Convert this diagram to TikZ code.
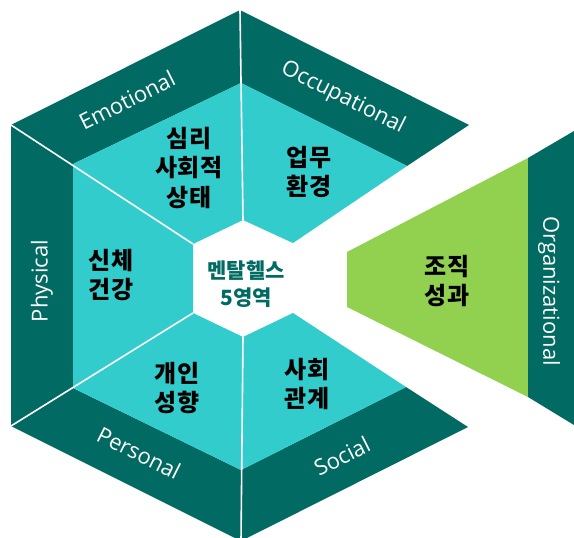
\documentclass[tikz,border=0pt]{standalone}
\usepackage{fontspec}
\newfontfamily\kr{Noto Sans CJK KR}
\newfontfamily\en{Open Sans}
\definecolor{tealdark}{HTML}{006A63}
\definecolor{cyanfill}{HTML}{33CCCC}
\definecolor{greenfill}{HTML}{92D050}
\tikzset{
  darkband/.style={fill=tealdark},
  cyanband/.style={fill=cyanfill},
  greenband/.style={fill=greenfill},
  sepline/.style={draw=white, line width=1.6pt},
  krlab/.style={font=\kr\bfseries\fontsize{24}{29.5}\selectfont, align=center, text=black, inner sep=0pt},
  centerlab/.style={font=\kr\bfseries\fontsize{21}{27}\selectfont, align=center, text=tealdark, inner sep=0pt},
  enlab/.style={font=\en\fontsize{22}{26}\selectfont, text=white, inner sep=0pt},
}
\begin{document}
\begin{tikzpicture}[x=1pt,y=-1pt]
\useasboundingbox (0,0) rectangle (574,538);
\clip (0,0) rectangle (574,538);
% outer hexagon vertices
\coordinate (T) at (240,10);
\coordinate (UL) at (11,125);
\coordinate (LL) at (11,426);
\coordinate (B) at (241,541);
\coordinate (UR) at (469,125);
\coordinate (LR) at (468,427);
% inner band vertices
\coordinate (iT) at (241,83);
\coordinate (iUL) at (73,164);
\coordinate (iLL) at (73,388);
\coordinate (iB) at (241,470);
\coordinate (iUR) at (407,166);
\coordinate (iLR) at (406,387);
% white centre hexagon
\coordinate (wT) at (243,220);
\coordinate (wUL) at (193,244);
\coordinate (wLL) at (193,313);
\coordinate (wB) at (243,337);
\coordinate (wUR) at (293,243);
\coordinate (wLR) at (293,313);
% dark outer bands
\fill[darkband] (T) -- (UL) -- (LL) -- (B) -- (LR) -- (iLR) -- (iB) -- (iLL) -- (iUL) -- (iT) -- (iUR) -- (UR) -- cycle;
% cyan inner bands
\fill[cyanband] (iT) -- (iUL) -- (iLL) -- (iB) -- (iLR) -- (wLR) -- (wB) -- (wLL) -- (wUL) -- (wT) -- (wUR) -- (iUR) -- cycle;
% separators
\draw[sepline] (T) -- (wT);
\draw[sepline] (UL) -- (wUL);
\draw[sepline] (LL) -- (wLL);
\draw[sepline] (B) -- (wB);
% organizational sector
\coordinate (gA) at (347,252);
\coordinate (gB) at (528,158);
\coordinate (gC) at (528,397);
\coordinate (gD) at (347,307);
\coordinate (oA) at (574,131);
\coordinate (oB) at (574,425);
\fill[greenband] (gA) -- (gB) -- (gC) -- (gD) -- cycle;
\fill[darkband] (gB) -- (oA) -- (oB) -- (gC) -- cycle;
% labels
\node[enlab, rotate=26.6] (emo) at (127,100) {Emotional};
\node[enlab, rotate=-26.6] (occ) at (343,98) {Occupational};
\node[enlab, rotate=90] (phy) at (42,281) {Physical};
\node[enlab, rotate=-26.6] (per) at (139,453) {Personal};
\node[enlab, rotate=26.6] (soc) at (342,456) {Social};
\node[enlab, rotate=-90] (org) at (549,291) {Organizational};
\node[krlab] (k1) at (189,168) {심리\\사회적\\상태};
\node[krlab] (k2) at (309,172) {업무\\환경};
\node[krlab] (k3) at (111,275) {신체\\건강};
\node[krlab] (k4) at (177,388) {개인\\성향};
\node[krlab] (k5) at (307,384) {사회\\관계};
\node[krlab] (k6) at (447,281) {조직\\성과};
\node[centerlab] (ctr) at (246,284) {멘탈헬스\\5영역};
\end{tikzpicture}
\end{document}
